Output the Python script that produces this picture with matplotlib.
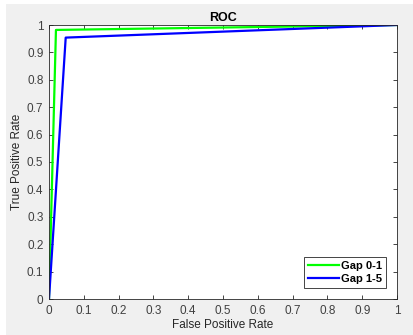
import numpy as np
import matplotlib.pyplot as plt
from matplotlib.patches import Rectangle

plt.rcParams['font.family'] = ['Liberation Sans', 'DejaVu Sans']

# ROC 곡선 데이터
fpr_gap01 = [0.0, 0.02, 1.0]
tpr_gap01 = [0.0, 0.982, 1.0]
fpr_gap15 = [0.0, 0.048, 1.0]
tpr_gap15 = [0.0, 0.954, 1.0]
series_labels = ["Gap 0-1", "Gap 1-5"]
ticks = [0, 0.1, 0.2, 0.3, 0.4, 0.5, 0.6, 0.7, 0.8, 0.9, 1]
tick_labels = ["0", "0.1", "0.2", "0.3", "0.4", "0.5", "0.6", "0.7", "0.8", "0.9", "1"]

W, H = 414, 335
fig = plt.figure(figsize=(W / 100, H / 100), dpi=100, facecolor="white")
# 회색 배경 (왼쪽/위쪽 흰 여백)
fig.patches.append(Rectangle((6 / W, 0), 1 - 6 / W, 1 - 4 / H, transform=fig.transFigure,
                             facecolor="#f0f0f0", edgecolor="none", zorder=-10))

ax = fig.add_axes([49 / W, 1 - 299 / H, (397 - 49) / W, (299 - 25) / H])
ax.plot(fpr_gap01, tpr_gap01, color="#00ff00", lw=1.6, label=series_labels[0])
ax.plot(fpr_gap15, tpr_gap15, color="#0000ff", lw=1.6, label=series_labels[1])

ax.set_xlim(0, 1)
ax.set_ylim(0, 1)
ax.set_xticks(ticks)
ax.set_xticklabels(tick_labels)
ax.set_yticks(ticks)
ax.set_yticklabels(tick_labels)
ax.tick_params(direction="in", top=True, right=True, length=3, width=0.6,
               colors="#262626", labelsize=8.5, labelcolor="#404040", pad=4)
for s in ax.spines.values():
    s.set_color("#262626")
    s.set_linewidth(0.6)

ax.set_title("ROC", fontsize=9, fontweight="bold", color="black", pad=3)
ax.set_xlabel("False Positive Rate", fontsize=8.5, color="#262626", labelpad=2)
ax.set_ylabel("True Positive Rate", fontsize=8.5, color="#262626", labelpad=3)

leg = ax.legend(loc="lower right", prop={"weight": "bold", "size": 8}, fancybox=False,
                framealpha=1, edgecolor="#262626", handlelength=2.8, borderaxespad=1.0,
                borderpad=0.35, labelspacing=0.25, handletextpad=0.2)
leg.get_frame().set_linewidth(0.6)

fig.savefig("out.png", dpi=100, facecolor=fig.get_facecolor())
